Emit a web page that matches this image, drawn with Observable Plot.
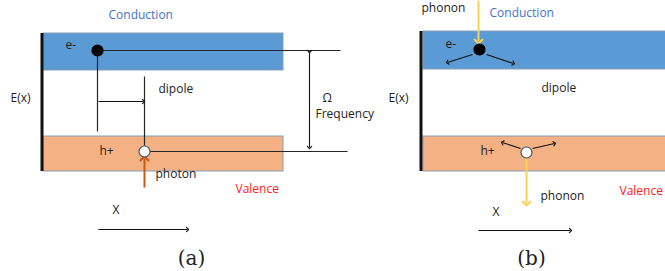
<!DOCTYPE html>
<html>
<head>
<meta charset="utf-8">
<script src="https://cdn.jsdelivr.net/npm/d3@7"></script>
<script src="https://cdn.jsdelivr.net/npm/@observablehq/plot@0.6"></script>
<style>
  html, body { margin: 0; padding: 0; background: #fff; }
  #chart svg { display: block; }
</style>
</head>
<body>
<div id="chart"></div>
<script>
// Band rectangles (conduction = blue, valence = orange)
const bandNames = ["Conduction", "Valence", "Conduction", "Valence"];
const bandX1 = [43, 43, 423, 423];
const bandX2 = [283, 283, 670, 670];
const bandY1 = [33, 136, 31, 136];
const bandY2 = [70, 171, 69, 171];

// Energy axis bars E(x)
const axisBarX = [41.5, 420.5];
const axisBarY1 = [33, 31];
const axisBarY2 = [171, 171];

// Plain lines (no heads)
const lineX1 = [97, 144, 97, 144];
const lineY1 = [50, 151, 50, 76];
const lineX2 = [340, 347, 97, 144];
const lineY2 = [50, 151, 131, 145];

// Black arrows
const arrowX1 = [98, 98, 472, 486, 520, 532, 478];
const arrowY1 = [101, 229, 54, 54, 148, 148, 230];
const arrowX2 = [143, 187, 447, 513, 502, 554, 570];
const arrowY2 = [101, 229, 62, 63, 142, 143, 230];

// Omega double arrow
const omegaX = [309];
const omegaY1 = [51];
const omegaY2 = [147];

// Colored arrows: photon (a), phonons (b)
const photonKind = ["photon", "phonon", "phonon"];
const photonX1 = [144, 478, 526];
const photonY1 = [187, 0, 157];
const photonX2 = [144, 478, 526];
const photonY2 = [158, 41, 203];

// Carriers
const carrierKind = ["electron", "hole", "electron", "hole"];
const carrierX = [97, 144, 479, 526];
const carrierY = [50, 151, 49, 152];

// Labels
const labelText = ["Conduction", "e-", "dipole", "E(x)", "\u03a9", "Frequency", "h+", "photon", "Valence", "X",
                   "phonon", "Conduction", "e-", "dipole", "E(x)", "h+", "phonon", "Valence", "X"];
const labelX = [108, 65, 158, 10, 322, 315, 99, 155, 235, 112,
                421, 489, 445, 541, 388, 480, 540, 619, 492];
const labelY = [15, 45, 89, 98, 98, 114, 151, 174, 189, 210,
                8, 13, 44, 88, 98, 151, 196, 191, 212];
const labelColor = ["#4472c4", "#222", "#222", "#222", "#222", "#222", "#222", "#222", "#ff1a1a", "#222",
                    "#222", "#4472c4", "#222", "#222", "#222", "#222", "#222", "#ff1a1a", "#222"];

// Panel captions
const captionText = ["(a)", "(b)"];
const captionX = [191, 531];
const captionY = [258, 258];

const bands = bandNames.map((name, i) => ({name, x1: bandX1[i], x2: bandX2[i], y1: bandY1[i], y2: bandY2[i]}));
const axisBars = axisBarX.map((x, i) => ({x, y1: axisBarY1[i], y2: axisBarY2[i]}));
const lines = lineX1.map((x1, i) => ({x1, y1: lineY1[i], x2: lineX2[i], y2: lineY2[i]}));
const arrows = arrowX1.map((x1, i) => ({x1, y1: arrowY1[i], x2: arrowX2[i], y2: arrowY2[i]}));
const omega = omegaX.map((x, i) => ({x, y1: omegaY1[i], y2: omegaY2[i]}));
const photons = photonKind.map((kind, i) => ({kind, x1: photonX1[i], y1: photonY1[i], x2: photonX2[i], y2: photonY2[i]}));
const carriers = carrierKind.map((kind, i) => ({kind, x: carrierX[i], y: carrierY[i]}));
const labels = labelText.map((text, i) => ({text, x: labelX[i], y: labelY[i], color: labelColor[i]}));
const captions = captionText.map((text, i) => ({text, x: captionX[i], y: captionY[i]}));

const bandFill = {Conduction: "#5b9bd5", Valence: "#f4b183"};
const photonColor = {photon: "#c55a11", phonon: "#f8d05c"};

const chart = Plot.plot({
  width: 665,
  height: 271,
  margin: 0,
  x: {domain: [0, 665], range: [0, 665], axis: null},
  y: {domain: [0, 271], range: [0, 271], axis: null},
  style: {background: "#fff", fontFamily: "'Open Sans', 'Liberation Sans', sans-serif"},
  marks: [
    Plot.rect(bands, {x1: "x1", x2: "x2", y1: "y1", y2: "y2", fill: d => bandFill[d.name], stroke: "#8a9bb5", strokeWidth: 1}),
    Plot.ruleX(axisBars, {x: "x", y1: "y1", y2: "y2", stroke: "#111", strokeWidth: 3}),
    Plot.link(lines, {x1: "x1", y1: "y1", x2: "x2", y2: "y2", stroke: "#262626", strokeWidth: 1.2}),
    Plot.link(arrows, {x1: "x1", y1: "y1", x2: "x2", y2: "y2", stroke: "#111", strokeWidth: 1.1, markerEnd: "arrow"}),
    Plot.link(omega, {x1: "x", y1: "y1", x2: "x", y2: "y2", stroke: "#111", strokeWidth: 1.1, markerStart: "arrow", markerEnd: "arrow"}),
    Plot.link(photons, {x1: "x1", y1: "y1", x2: "x2", y2: "y2", stroke: d => photonColor[d.kind], strokeWidth: 2, markerEnd: "arrow"}),
    Plot.dot(carriers, {x: "x", y: "y", r: 5.5, fill: d => d.kind === "electron" ? "#000" : "#fff", stroke: d => d.kind === "electron" ? "#000" : "#44546a", strokeWidth: 1.2}),
    Plot.text(labels, {x: "x", y: "y", text: "text", fill: d => d.color, textAnchor: "start", fontSize: 12}),
    Plot.text(captions, {x: "x", y: "y", text: "text", fill: "#222", fontSize: 20, fontFamily: "'DejaVu Serif', 'Liberation Serif', serif"})
  ]
});
document.getElementById("chart").appendChild(chart);
</script>
</body>
</html>
